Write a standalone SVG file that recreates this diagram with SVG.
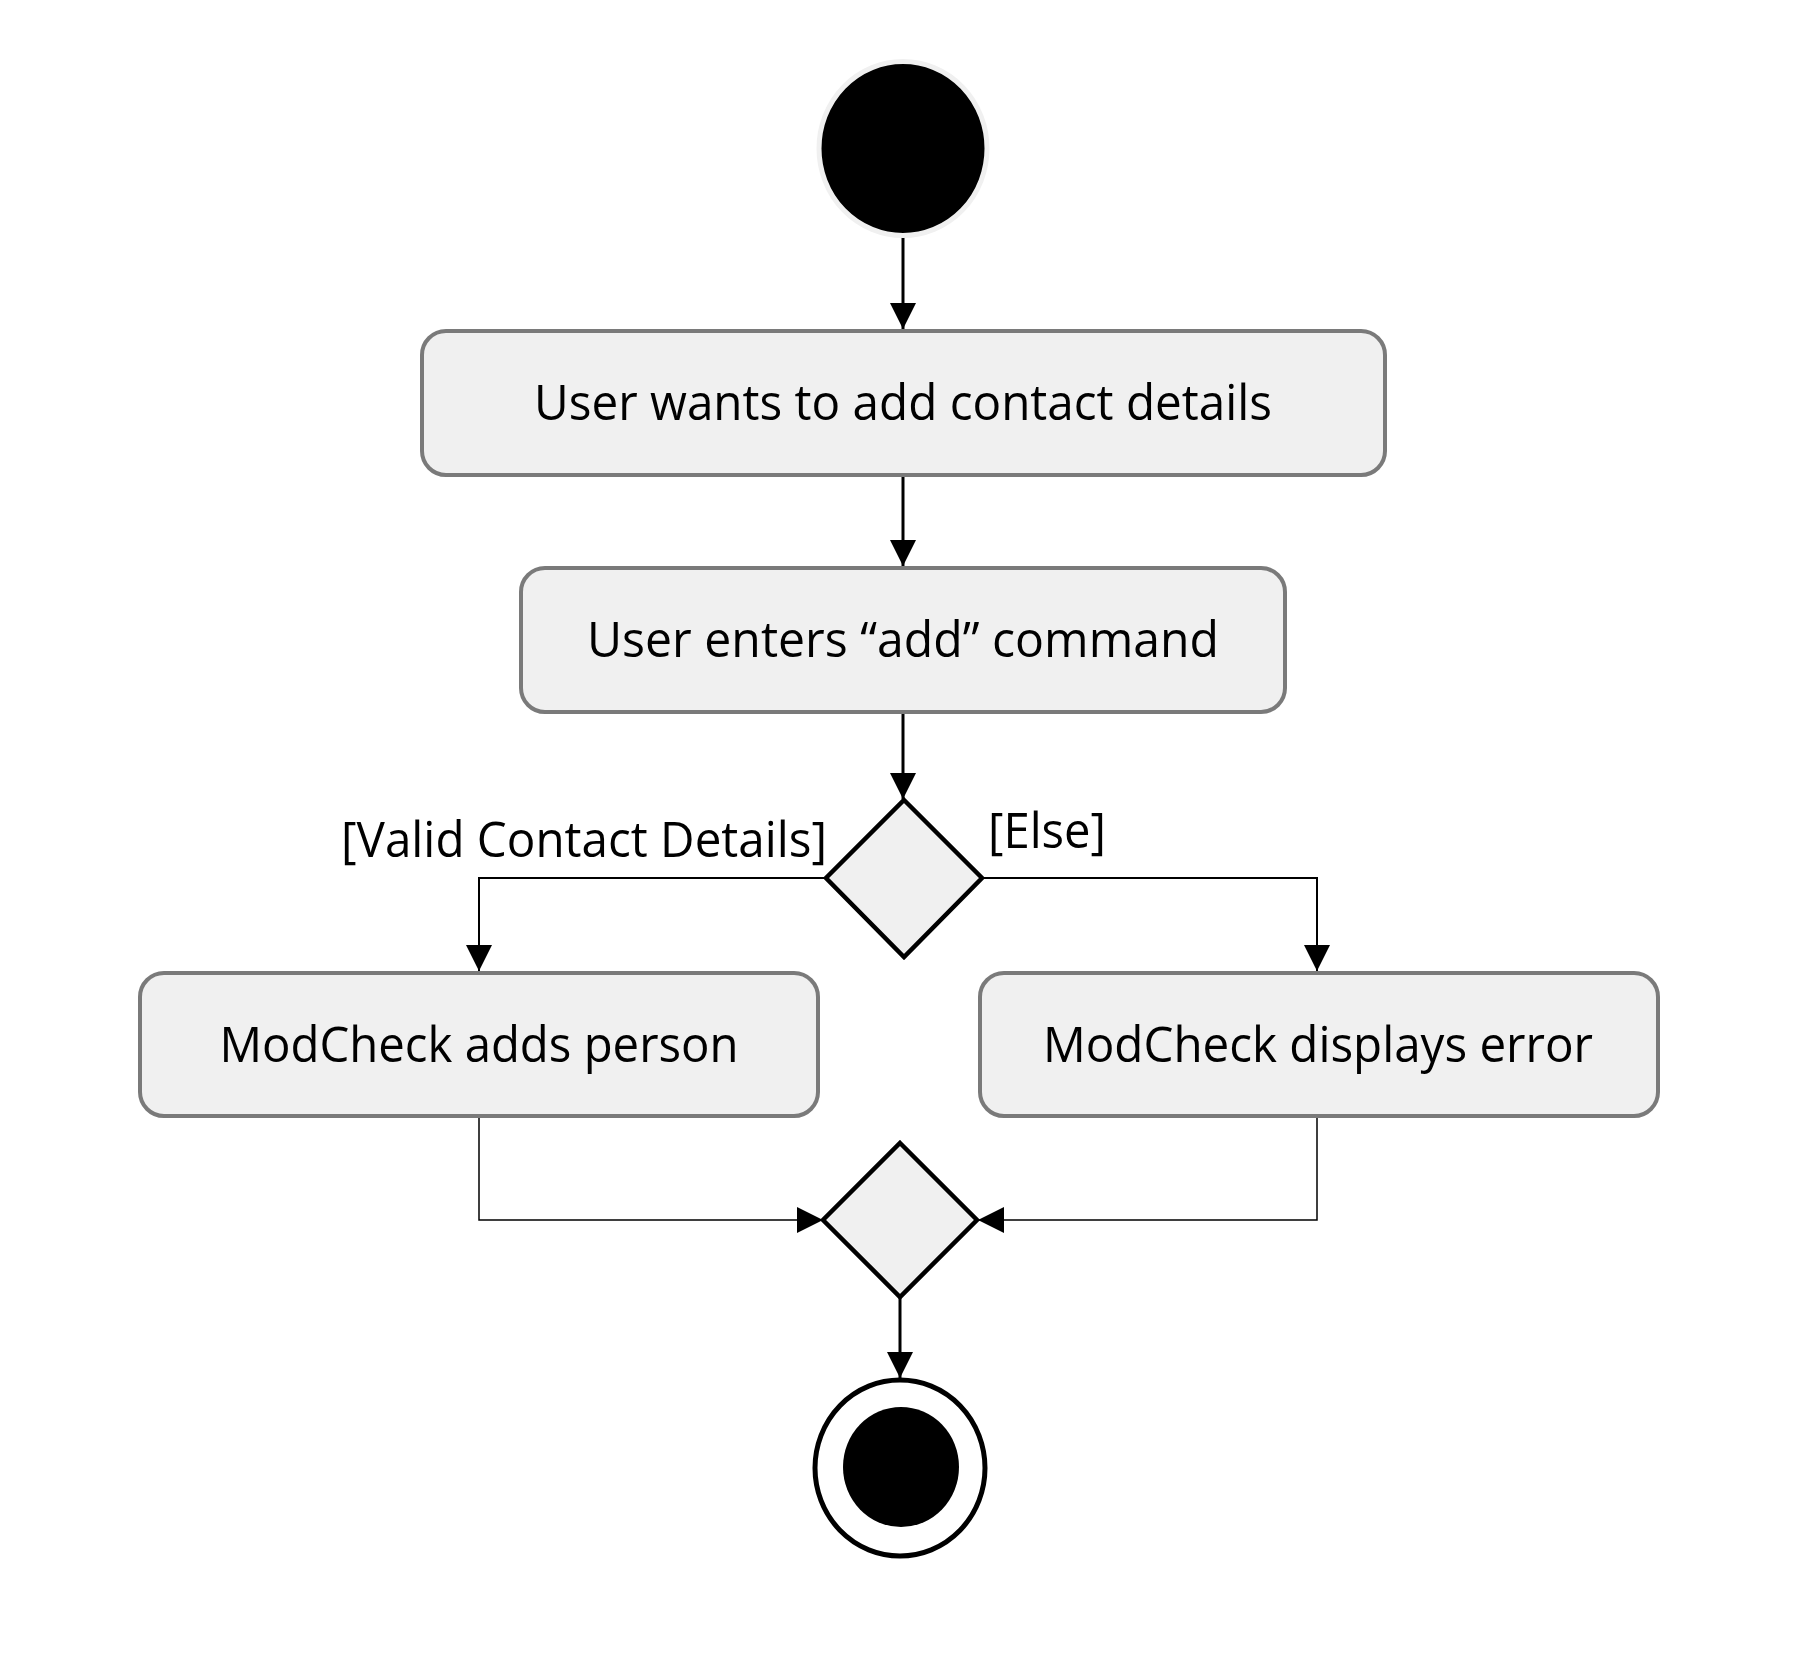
<svg xmlns="http://www.w3.org/2000/svg" width="1806" height="1660" viewBox="0 0 1806 1660">
<style>
.act{fill:#f0f0f0;stroke:#7a7a7a;stroke-width:4}
.dia{fill:#f0f0f0;stroke:#000;stroke-width:4.5;stroke-linejoin:miter}
.t{font-family:"Open Sans","Noto Sans","Liberation Sans",sans-serif;font-size:49px;fill:#000}
.c{fill:none;stroke:#000}
.main{stroke-width:3}
.br{stroke-width:2}
.thin{stroke-width:1.5}
</style>
<defs>
<marker id="ah" markerUnits="userSpaceOnUse" markerWidth="26" markerHeight="26" refX="26" refY="13" orient="auto">
<path d="M0,0 L26,13 L0,26 z" fill="#000"/>
</marker>
</defs>
<rect width="1806" height="1660" fill="#fff"/>
<g id="connectors">
<line class="c main" x1="903" y1="234" x2="903" y2="329" marker-end="url(#ah)"/>
<line class="c main" x1="903" y1="477" x2="903" y2="566" marker-end="url(#ah)"/>
<line class="c main" x1="903" y1="713" x2="903" y2="799" marker-end="url(#ah)"/>
<polyline class="c br" points="826,878 479,878 479,971" marker-end="url(#ah)"/>
<polyline class="c br" points="982,878 1317,878 1317,971" marker-end="url(#ah)"/>
<polyline class="c thin" points="479,1118 479,1220 823,1220" marker-end="url(#ah)"/>
<polyline class="c thin" points="1317,1118 1317,1220 978,1220" marker-end="url(#ah)"/>
<line class="c main" x1="900" y1="1297" x2="900" y2="1378" marker-end="url(#ah)"/>
</g>
<g id="start">
<ellipse cx="903" cy="148.5" rx="84" ry="87" fill="#000" stroke="#f0f0f0" stroke-width="5"/>
</g>
<g id="a1">
<rect class="act" x="422" y="331" width="963" height="144" rx="24"/>
<text class="t" x="903" y="420" text-anchor="middle" textLength="738" lengthAdjust="spacingAndGlyphs">User wants to add contact details</text>
</g>
<g id="a2">
<rect class="act" x="521" y="568" width="764" height="144" rx="24"/>
<text class="t" x="903" y="657" text-anchor="middle" textLength="632" lengthAdjust="spacingAndGlyphs">User enters “add” command</text>
</g>
<g id="decision">
<polygon class="dia" points="904,800 982,878 904,957 826,878"/>
</g>
<g id="label-valid">
<text class="t" x="341" y="857" textLength="486" lengthAdjust="spacingAndGlyphs">[Valid Contact Details]</text>
</g>
<g id="label-else">
<text class="t" x="988" y="848" textLength="118" lengthAdjust="spacingAndGlyphs">[Else]</text>
</g>
<g id="a3">
<rect class="act" x="140" y="973" width="678" height="143" rx="24"/>
<text class="t" x="479" y="1062" text-anchor="middle" textLength="519" lengthAdjust="spacingAndGlyphs">ModCheck adds person</text>
</g>
<g id="a4">
<rect class="act" x="980" y="973" width="678" height="143" rx="24"/>
<text class="t" x="1318" y="1062" text-anchor="middle" textLength="550" lengthAdjust="spacingAndGlyphs">ModCheck displays error</text>
</g>
<g id="merge">
<polygon class="dia" points="900,1143 977,1220 900,1297 823,1220"/>
</g>
<g id="end">
<ellipse cx="900" cy="1468" rx="85" ry="88" fill="#fff" stroke="#000" stroke-width="5"/>
<ellipse cx="901" cy="1467" rx="58" ry="60" fill="#000"/>
</g>
</svg>
